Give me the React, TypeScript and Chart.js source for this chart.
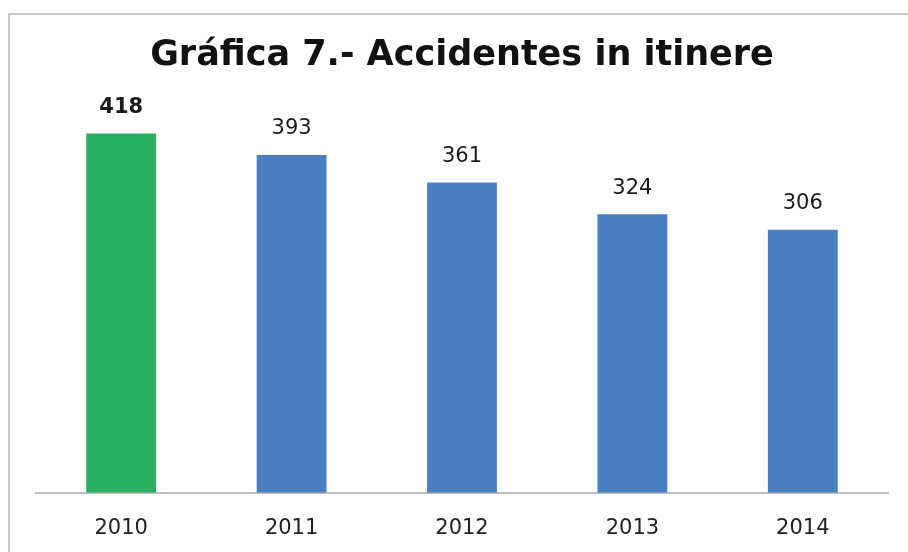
import React, { useEffect, useRef } from "react";
import { Chart, registerables } from "chart.js";

Chart.register(...registerables);

const titleText = "Gráfica 7.- Accidentes in itinere";
const categories = ["2010", "2011", "2012", "2013", "2014"];
const values = [418, 393, 361, 324, 306];
const barColors = ["#29B05F", "#4A7FC1", "#4A7FC1", "#4A7FC1", "#4A7FC1"];
const labelBold = [true, false, false, false, false];

const FONT = "'DejaVu Sans', Verdana, sans-serif";

export default function App() {
  const ref = useRef<HTMLCanvasElement | null>(null);
  useEffect(() => {
    document.body.style.margin = "0";
    const canvas = ref.current;
    if (!canvas) return;

    const frame = {
      id: "frame",
      beforeDraw(chart: any) {
        const ctx = chart.ctx;
        ctx.save();
        ctx.fillStyle = "#ffffff";
        ctx.fillRect(0, 0, chart.width, chart.height);
        ctx.strokeStyle = "#c9c9c9";
        ctx.lineWidth = 2;
        ctx.strokeRect(9, 14, chart.width + 20, chart.height + 20);
        ctx.restore();
      },
    };

    const valueLabels = {
      id: "valueLabels",
      afterDatasetsDraw(chart: any) {
        const ctx = chart.ctx;
        const meta = chart.getDatasetMeta(0);
        ctx.save();
        ctx.textAlign = "center";
        ctx.textBaseline = "middle";
        ctx.fillStyle = "#1a1a1a";
        meta.data.forEach((bar: any, i: number) => {
          ctx.font = `${labelBold[i] ? "bold " : ""}21px ${FONT}`;
          ctx.fillText(String(values[i]), bar.x, bar.y - 26);
        });
        ctx.restore();
      },
    };

    const chart = new Chart(canvas, {
      type: "bar",
      data: {
        labels: categories,
        datasets: [
          {
            data: values,
            backgroundColor: barColors,
            borderWidth: 0,
            categoryPercentage: 1,
            barPercentage: 0.41,
          },
        ],
      },
      options: {
        animation: false,
        responsive: false,
        devicePixelRatio: 1,
        layout: { padding: { top: 35, left: 36, right: 20, bottom: -12 } },
        plugins: {
          legend: { display: false },
          tooltip: { enabled: false },
          title: {
            display: true,
            text: titleText,
            color: "#111111",
            font: { family: FONT, size: 35, weight: "bold" },
            padding: { top: 0, bottom: 29 },
          },
        },
        scales: {
          x: {
            grid: { display: false, drawTicks: false },
            border: { display: true, color: "#bfbfbf", width: 2 },
            ticks: {
              color: "#222222",
              padding: 23,
              font: { family: FONT, size: 21 },
            },
          },
          y: {
            display: false,
            min: 0,
            max: 450,
          },
        },
      },
      plugins: [frame, valueLabels],
    });
    return () => chart.destroy();
  }, []);

  return (
    <div style={{ position: "absolute", left: 0, top: 0, width: 908, height: 552 }}>
      <canvas ref={ref} width={908} height={552} style={{ width: 908, height: 552, display: "block" }} />
    </div>
  );
}
